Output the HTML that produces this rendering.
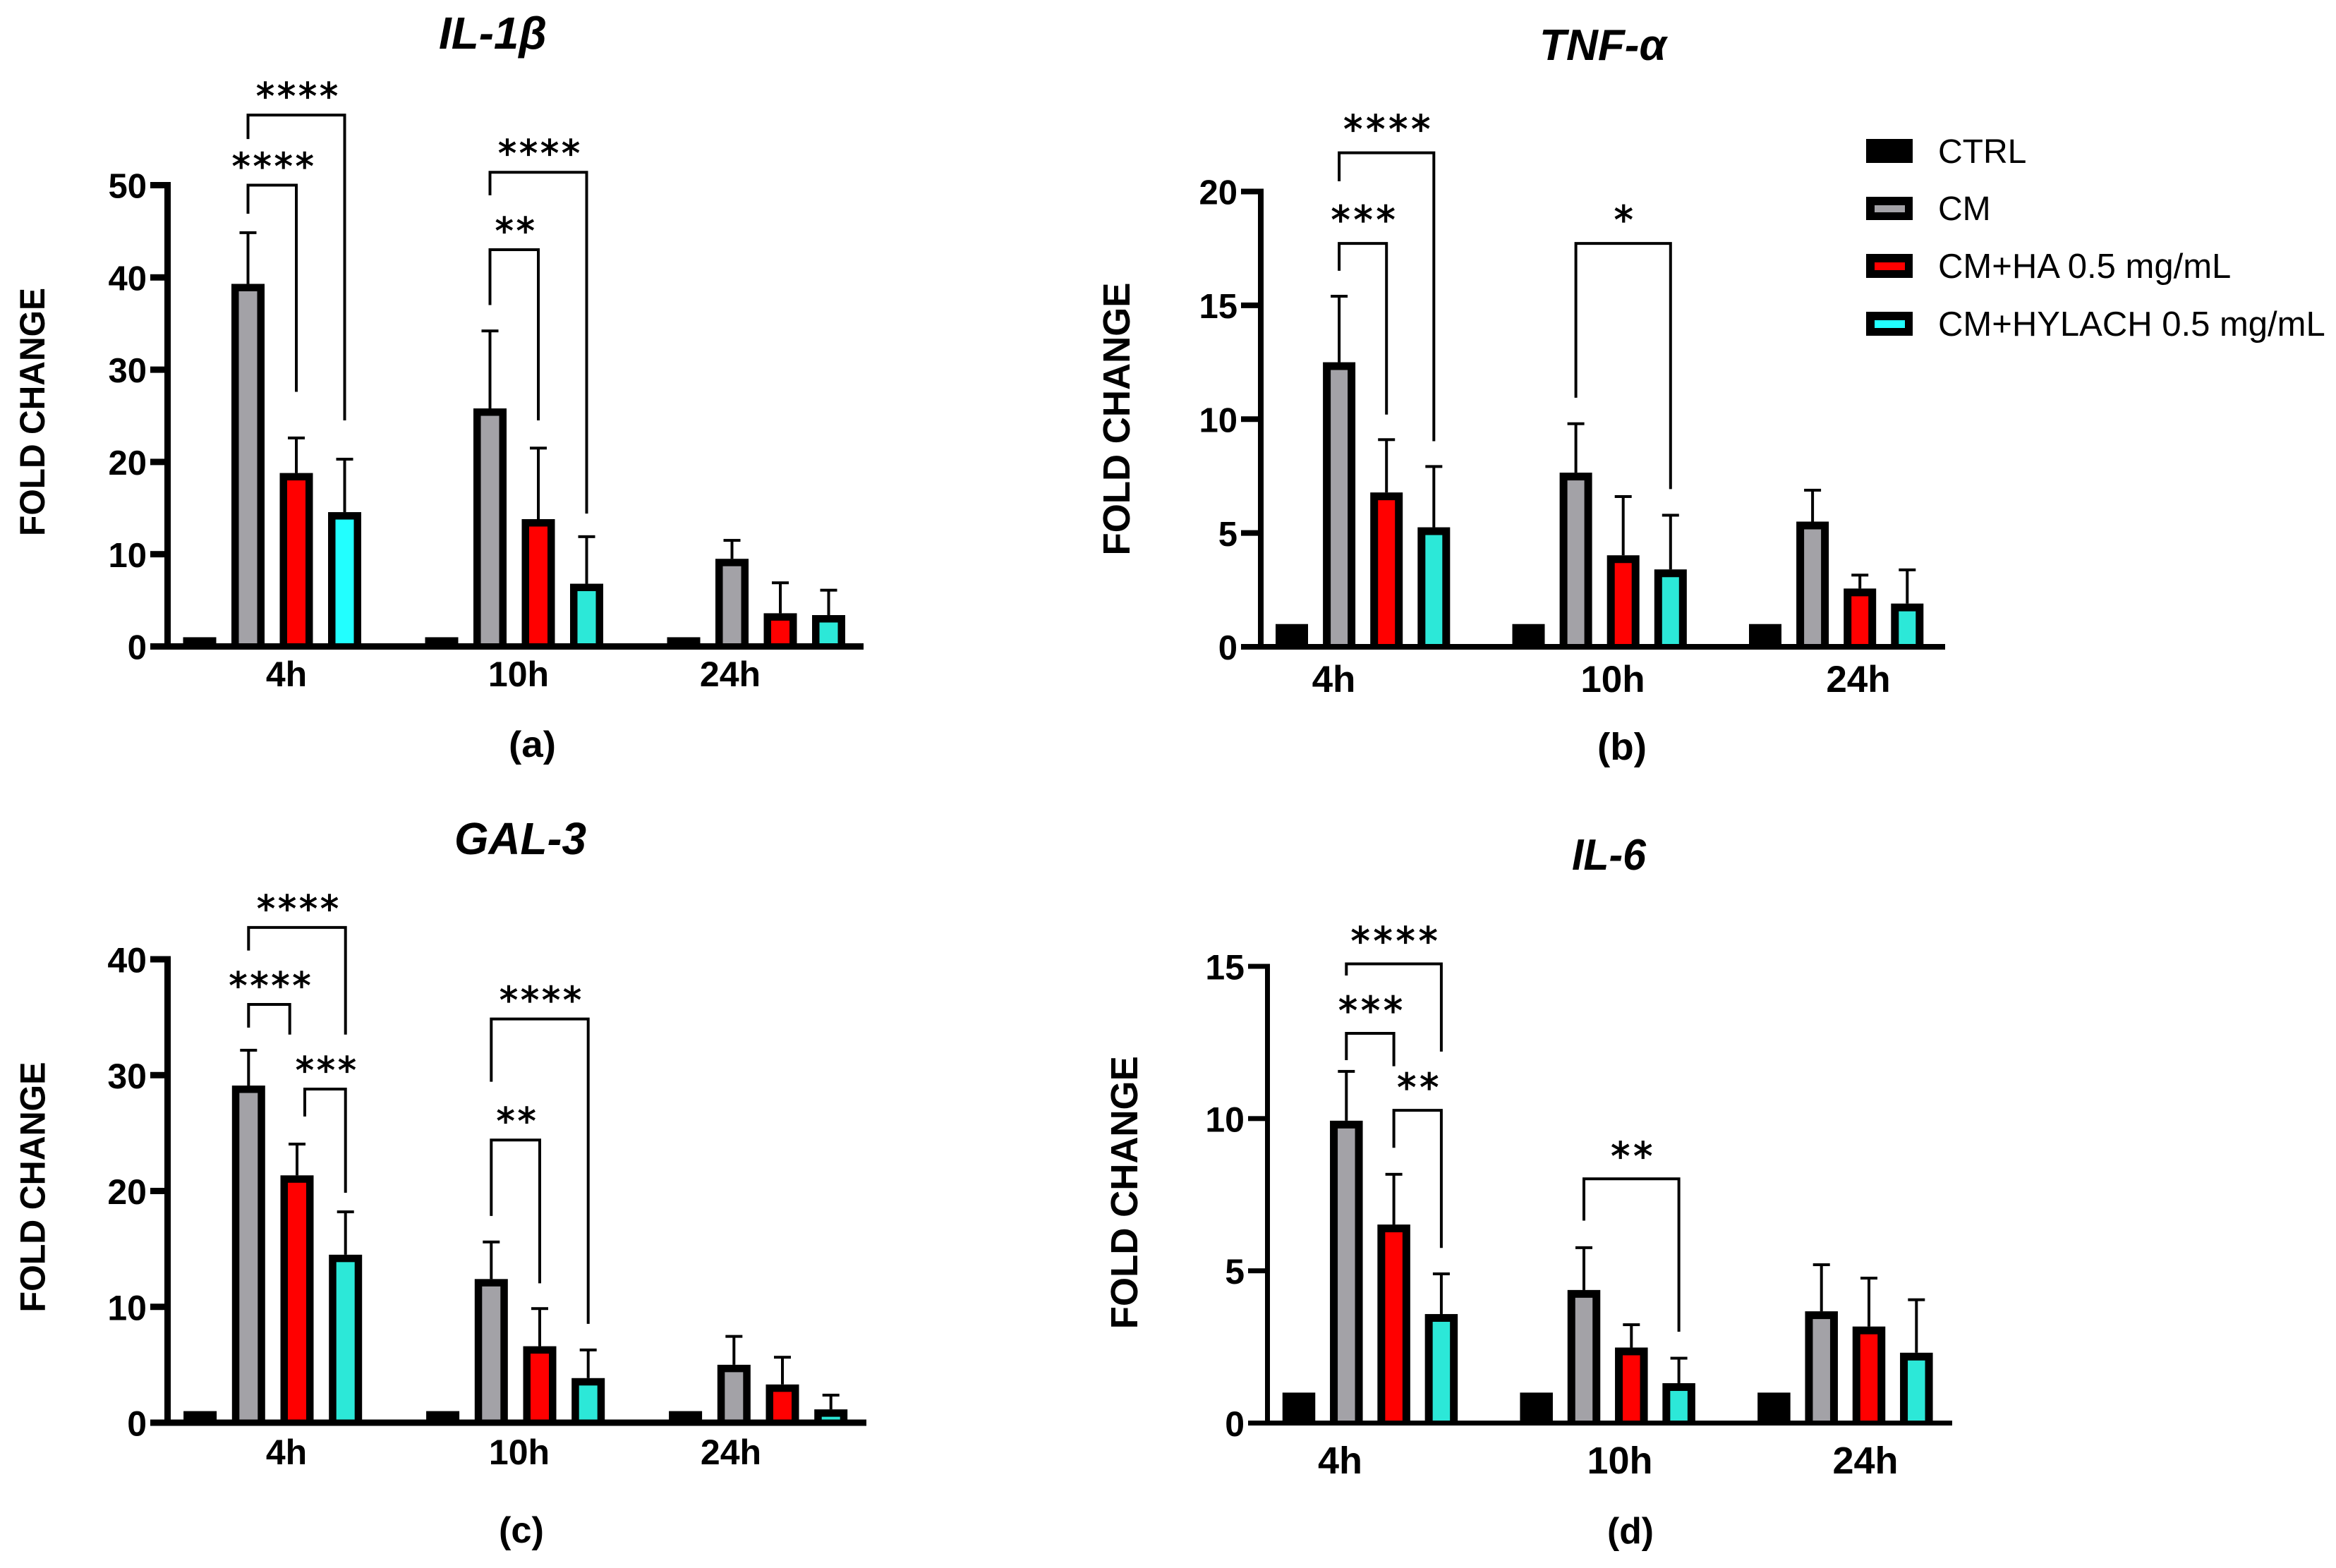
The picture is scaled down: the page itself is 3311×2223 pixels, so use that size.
<!DOCTYPE html>
<html lang="en">
<head>
<meta charset="utf-8">
<title>Fold change of inflammatory markers</title>
<style>
html,body{margin:0;padding:0;background:#fff;width:3311px;height:2223px;overflow:hidden}
svg{display:block}
text{font-family:"Liberation Sans",Arial,sans-serif;fill:#000}
.bold{font-weight:bold}
.star{font-family:"DejaVu Sans",sans-serif;stroke:#000;stroke-width:1.2px}
</style>
</head>
<body>
<svg id="figure" xmlns="http://www.w3.org/2000/svg" width="3311" height="2223" viewBox="0 0 3311 2223">
  <rect x="0" y="0" width="3311" height="2223" fill="#fff"/>

  <text class="bold" font-style="italic" font-size="64" x="622" y="69" textLength="153" lengthAdjust="spacingAndGlyphs">IL-1β</text>
  <text class="bold" font-style="italic" font-size="62" x="2182" y="85" textLength="180" lengthAdjust="spacingAndGlyphs">TNF-α</text>
  <text class="bold" font-style="italic" font-size="64" x="644" y="1211" textLength="187" lengthAdjust="spacingAndGlyphs">GAL-3</text>
  <text class="bold" font-style="italic" font-size="62" x="2228" y="1233" textLength="105" lengthAdjust="spacingAndGlyphs">IL-6</text>

  <text class="bold" font-size="52" x="721" y="1073" textLength="67" lengthAdjust="spacingAndGlyphs">(a)</text>
  <text class="bold" font-size="54" x="2264" y="1077" textLength="70" lengthAdjust="spacingAndGlyphs">(b)</text>
  <text class="bold" font-size="52" x="707" y="2187" textLength="64" lengthAdjust="spacingAndGlyphs">(c)</text>
  <text class="bold" font-size="52" x="2278" y="2188" textLength="66" lengthAdjust="spacingAndGlyphs">(d)</text>

  <text class="bold" font-size="50" text-anchor="middle" transform="translate(63,584) rotate(-90)" textLength="352" lengthAdjust="spacingAndGlyphs">FOLD CHANGE</text>
  <text class="bold" font-size="54" text-anchor="middle" transform="translate(1601,594) rotate(-90)" textLength="387" lengthAdjust="spacingAndGlyphs">FOLD CHANGE</text>
  <text class="bold" font-size="50" text-anchor="middle" transform="translate(63.5,1683) rotate(-90)" textLength="355" lengthAdjust="spacingAndGlyphs">FOLD CHANGE</text>
  <text class="bold" font-size="54" text-anchor="middle" transform="translate(1612,1690.7) rotate(-90)" textLength="387" lengthAdjust="spacingAndGlyphs">FOLD CHANGE</text>

  <g id="legend">
    <g>
      <rect x="2645" y="197" width="66" height="34" fill="#000"/>
      <text font-size="48" x="2747" y="231">CTRL</text>
    </g>
    <g>
      <rect x="2645" y="279" width="66" height="33" fill="#000"/>
      <rect x="2657" y="291" width="43" height="10" fill="#a3a2a7"/>
      <text font-size="48" x="2747" y="312">CM</text>
    </g>
    <g>
      <rect x="2645" y="360" width="66" height="34" fill="#000"/>
      <rect x="2657" y="372" width="43" height="11" fill="#ff0000"/>
      <text font-size="49" x="2747" y="394">CM+HA 0.5 mg/mL</text>
    </g>
    <g>
      <rect x="2645" y="442" width="66" height="34" fill="#000"/>
      <rect x="2657" y="454" width="43" height="11" fill="#22ffff"/>
      <text font-size="49" x="2747" y="476">CM+HYLACH 0.5 mg/mL</text>
    </g>
  </g>
</svg>
<script>
const categories = ['4h', '10h', '24h'];
const seriesNames = ['ctrl', 'cm', 'cm-ha', 'cm-hylach'];

const il1bTicks = [0, 10, 20, 30, 40, 50];
const il1bCtrl = [1, 1, 1];
const il1bCm = [39.3, 25.8, 9.5];
const il1bHa = [18.8, 13.8, 3.6];
const il1bHylach = [14.56, 6.8, 3.4];
const il1bCmErr = [44.85, 34.2, 11.5];
const il1bHaErr = [22.6, 21.5, 6.9];
const il1bHylachErr = [20.3, 11.9, 6.1];
// group, from-series, to-series, top value, left-leg end value, right-leg end value, stars
const il1bBrackets = [
  [0, 1, 2, 50.0, 46.9, 27.6, '****'],
  [0, 1, 3, 57.6, 55.0, 24.5, '****'],
  [1, 1, 2, 43.0, 37.0, 24.5, '**'],
  [1, 1, 3, 51.4, 48.9, 14.4, '****']
];

const tnfTicks = [0, 5, 10, 15, 20];
const tnfCtrl = [1, 1, 1];
const tnfCm = [12.5, 7.65, 5.5];
const tnfHa = [6.78, 4.02, 2.56];
const tnfHylach = [5.25, 3.4, 1.9];
const tnfCmErr = [15.4, 9.8, 6.88];
const tnfHaErr = [9.1, 6.6, 3.15];
const tnfHylachErr = [7.92, 5.78, 3.38];
const tnfBrackets = [
  [0, 1, 2, 17.72, 16.52, 10.2, '***'],
  [0, 1, 3, 21.7, 20.45, 9.03, '****'],
  [1, 1, 3, 17.72, 10.94, 6.93, '*']
];

const gal3Ticks = [0, 10, 20, 30, 40];
const gal3Ctrl = [1, 1, 1];
const gal3Cm = [29.1, 12.4, 5.0];
const gal3Ha = [21.35, 6.6, 3.3];
const gal3Hylach = [14.5, 3.85, 1.15];
const gal3CmErr = [32.15, 15.6, 7.45];
const gal3HaErr = [24.05, 9.85, 5.65];
const gal3HylachErr = [18.2, 6.28, 2.38];
const gal3Brackets = [
  [0, 1, 1.85, 36.1, 34.1, 33.5, '****'],
  [0, 1, 3, 42.75, 40.75, 33.5, '****'],
  [0, 2.16, 3, 28.8, 26.43, 19.85, '***'],
  [1, 1, 3, 34.85, 29.43, 8.53, '****'],
  [1, 1, 2, 24.4, 17.85, 12.03, '**']
];

const il6Ticks = [0, 5, 10, 15];
const il6Ctrl = [1, 1, 1];
const il6Cm = [9.93, 4.37, 3.67];
const il6Ha = [6.52, 2.48, 3.17];
const il6Hylach = [3.58, 1.31, 2.31];
const il6CmErr = [11.55, 5.76, 5.2];
const il6HaErr = [8.17, 3.23, 4.76];
const il6HylachErr = [4.9, 2.13, 4.05];
const il6Brackets = [
  [0, 1, 3, 15.08, 14.7, 12.2, '****'],
  [0, 1, 2, 12.8, 11.92, 11.72, '***'],
  [0, 2, 3, 10.27, 9.04, 5.75, '**'],
  [1, 1, 3, 8.02, 6.65, 3.0, '**']
];

const panels = [
  { id: 'a', ticks: il1bTicks, means: [il1bCtrl, il1bCm, il1bHa, il1bHylach], errs: [null, il1bCmErr, il1bHaErr, il1bHylachErr], brackets: il1bBrackets,
    layout: { axisX: 237.5, tickLeft: 213, right: 1224, y0: 916.5, yTop: 262.5, sw: 9, first: 283, step: 68.5, group: 343, bw: 47, border: 10.5, tickFs: 49, catFs: 50, catBase: 973, catX: [406, 735, 1035], gap: 34.5, starFs: 52, starLs: 4, brightGroups: [0] } },
  { id: 'b', ticks: tnfTicks, means: [tnfCtrl, tnfCm, tnfHa, tnfHylach], errs: [null, tnfCmErr, tnfHaErr, tnfHylachErr], brackets: tnfBrackets,
    layout: { axisX: 1787, tickLeft: 1759, right: 2757, y0: 917, yTop: 271.5, sw: 8, first: 1831, step: 67.1, group: 335.5, bw: 46, border: 11, tickFs: 49, catFs: 53, catBase: 981, catX: [1890.5, 2286, 2634], gap: 41.5, starFs: 54, starLs: 5, brightGroups: [] } },
  { id: 'c', ticks: gal3Ticks, means: [gal3Ctrl, gal3Cm, gal3Ha, gal3Hylach], errs: [null, gal3CmErr, gal3HaErr, gal3HylachErr], brackets: gal3Brackets,
    layout: { axisX: 237.5, tickLeft: 213, right: 1228, y0: 2017, yTop: 1360, sw: 9, first: 283.6, step: 68.7, group: 344, bw: 47, border: 10.5, tickFs: 50, catFs: 50, catBase: 2076, catX: [406, 736, 1036], gap: 34.5, starFs: 52, starLs: 4, brightGroups: [] } },
  { id: 'd', ticks: il6Ticks, means: [il6Ctrl, il6Cm, il6Ha, il6Hylach], errs: [null, il6CmErr, il6HaErr, il6HylachErr], brackets: il6Brackets,
    layout: { axisX: 1796.5, tickLeft: 1769, right: 2767, y0: 2017.5, yTop: 1370, sw: 7, first: 1841, step: 67.3, group: 336.7, bw: 46.5, border: 11, tickFs: 50, catFs: 54, catBase: 2089, catX: [1899.5, 2296, 2644], gap: 40.5, starFs: 54, starLs: 5, brightGroups: [] } }
];

const SVG_NS = 'http://www.w3.org/2000/svg';
const root = document.getElementById('figure');
const fills = ['#000000', '#a3a2a7', '#ff0000', '#2ce8d8'];

function make(tag, attrs, parent) {
  const el = document.createElementNS(SVG_NS, tag);
  for (const key in attrs) el.setAttribute(key, attrs[key]);
  parent.appendChild(el);
  return el;
}

function drawPanel(p) {
  const L = p.layout;
  const maxTick = p.ticks[p.ticks.length - 1];
  const yScale = v => L.y0 - (v / maxTick) * (L.y0 - L.yTop);
  const xScale = (g, s) => L.first + g * L.group + s * L.step;

  const g = make('g', {}, root);
  
  

  // bars and error bars
  categories.forEach((cat, gi) => {
    p.means.forEach((series, si) => {
      const cx = xScale(gi, si);
      const top = yScale(series[gi]);
      if (p.errs[si]) {
        const errY = yScale(p.errs[si][gi]);
        const stem = make('rect', { x: cx - 2, y: errY, width: 4, height: top - errY, fill: '#000' }, g);
        
        
        const cap = make('rect', { x: cx - 12, y: errY - 2, width: 24, height: 4, fill: '#000' }, g);
        
        
      }
      const outer = make('rect', { x: cx - L.bw / 2, y: top, width: L.bw, height: L.y0 - top, fill: '#000' }, g);
      
      
      if (si > 0) {
        const bright = si === 3 && L.brightGroups.indexOf(gi) >= 0;
        const inner = make('rect', { x: cx - L.bw / 2 + L.border, y: top + L.border, width: L.bw - 2 * L.border, height: Math.max(0, L.y0 - top - L.border), fill: bright ? '#22ffff' : fills[si] }, g);
        
        
      }
    });
    const catLabel = make('text', { x: L.catX[gi], y: L.catBase, 'font-size': L.catFs, 'font-weight': 'bold', 'text-anchor': 'middle' }, g);
    catLabel.textContent = cat;
    
    
  });

  // axes
  const xAxis = make('rect', { x: L.tickLeft, y: L.y0 - L.sw / 2, width: L.right - L.tickLeft, height: L.sw, fill: '#000' }, g);
  
  
  const yAxis = make('rect', { x: L.axisX - L.sw / 2, y: L.yTop - L.sw / 2, width: L.sw, height: L.y0 - L.yTop + L.sw, fill: '#000' }, g);
  
  

  p.ticks.forEach(t => {
    const ty = yScale(t);
    const tick = make('rect', { x: L.tickLeft, y: ty - L.sw / 2, width: L.axisX - L.tickLeft, height: L.sw, fill: '#000' }, g);
    
    
    const label = make('text', { x: L.tickLeft - 5, y: ty + L.tickFs * 0.37, 'font-size': L.tickFs, 'font-weight': 'bold', 'text-anchor': 'end' }, g);
    label.textContent = String(t);
    
    
  });

  // significance brackets
  p.brackets.forEach((b, i) => {
    const xl = xScale(b[0], b[1]);
    const xr = xScale(b[0], b[2]);
    const yt = yScale(b[3]);
    const path = make('path', { d: 'M' + xl + ' ' + yScale(b[4]) + 'V' + yt + 'H' + xr + 'V' + yScale(b[5]), fill: 'none', stroke: '#000', 'stroke-width': 4 }, g);
    
    
    const star = make('text', { x: (xl + xr) / 2 + 3, y: yt - L.gap + L.starFs / 2, 'class': 'star', 'text-anchor': 'middle', 'font-size': L.starFs, 'letter-spacing': L.starLs }, g);
    star.textContent = b[6];
    
    
  });
}

panels.forEach(drawPanel);
</script>
</body>
</html>
